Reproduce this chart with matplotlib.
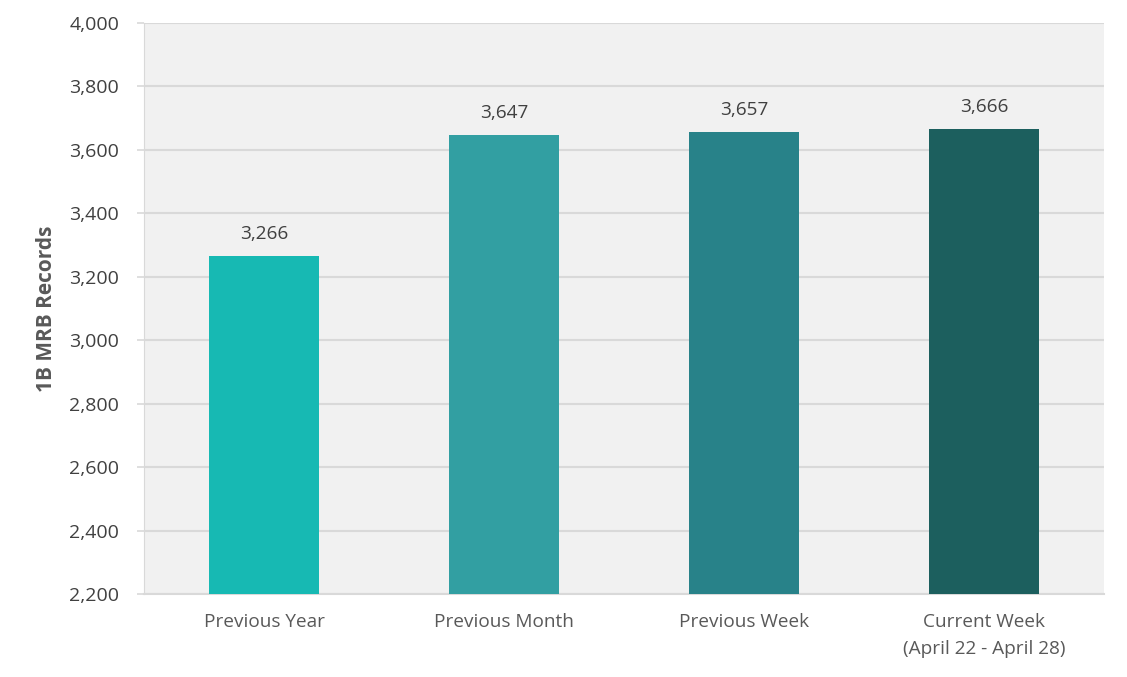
import matplotlib.pyplot as plt
from matplotlib.ticker import FuncFormatter

# Data
categories = ["Previous Year", "Previous Month", "Previous Week", "Current Week\n(April 22 - April 28)"]
values = [3266, 3647, 3657, 3666]
colors = ["#17b9b3", "#329fa2", "#288289", "#1c5f5e"]
yticks = [2200, 2400, 2600, 2800, 3000, 3200, 3400, 3600, 3800, 4000]

plt.rcParams['font.family'] = ['Open Sans', 'DejaVu Sans']

fig = plt.figure(figsize=(11.27, 6.77), dpi=100)
ax = fig.add_axes([144 / 1127, 1 - 594 / 677, 960 / 1127, 571 / 677])
ax.set_facecolor("#f1f1f1")

x = range(len(categories))
bars = ax.bar(x, values, width=0.46, color=colors, zorder=3)

for b, v in zip(bars, values):
    ax.text(b.get_x() + b.get_width() / 2, v + 40, f"{v:,}", ha="center", va="bottom",
            fontsize=13.7, color="#404040", zorder=4)

ax.set_xlim(-0.5, len(categories) - 0.5)
ax.set_ylim(2200, 4000)
ax.set_yticks(yticks)
ax.yaxis.set_major_formatter(FuncFormatter(lambda v, p: f"{int(v):,}"))
ax.set_xticks(list(x))
ax.set_xticklabels(categories, fontsize=13.7, color="#595959", linespacing=1.6)
ax.tick_params(axis="y", labelsize=14, labelcolor="#404040", length=5, color="#d9d9d9", width=1.2, pad=13)
ax.tick_params(axis="x", length=0, pad=14)

ax.grid(axis="y", color="#d9d9d9", linewidth=1.5, zorder=1)
for s in ["top", "right"]:
    ax.spines[s].set_visible(False)
ax.spines["left"].set_color("#d9d9d9")
ax.spines["bottom"].set_color("#d9d9d9")
ax.spines["bottom"].set_linewidth(1.5)

ax.set_ylabel("1B MRB Records", fontsize=15, fontweight="bold", color="#595959", labelpad=9)

fig.savefig("out.png", dpi=100)
